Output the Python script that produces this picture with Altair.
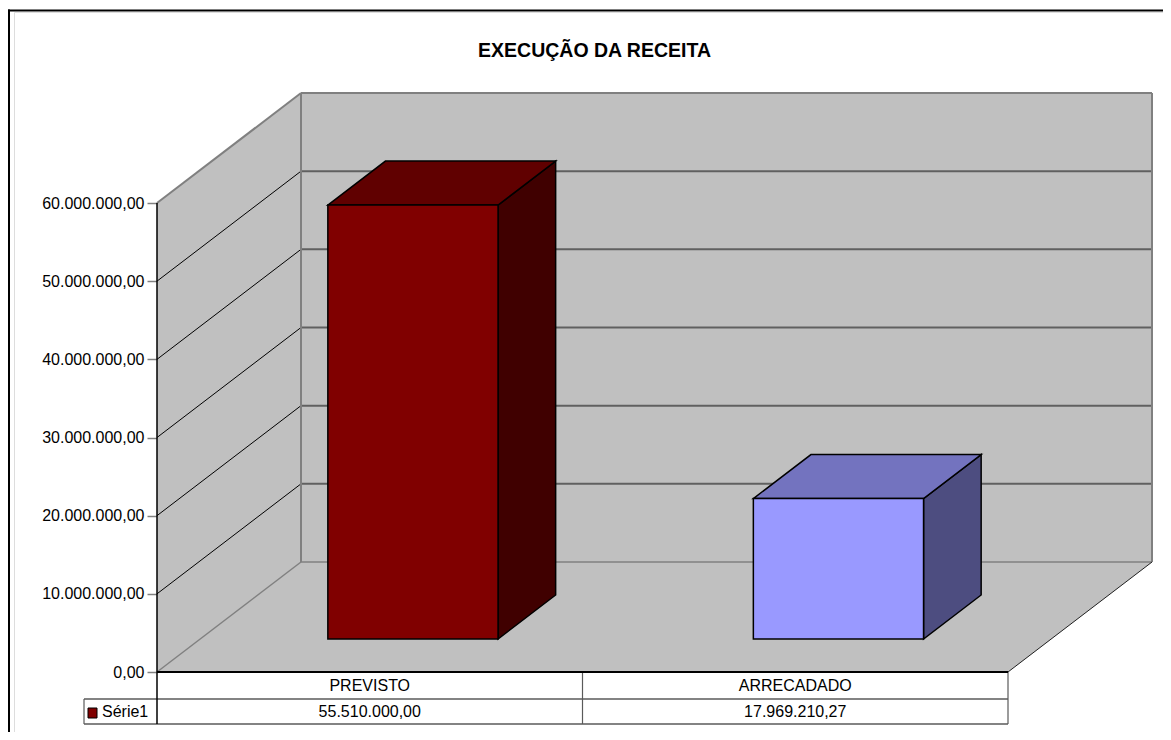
import altair as alt
import pandas as pd

# ---------------- data ----------------
CATEGORIES = ["PREVISTO", "ARRECADADO"]
VALUES = [55510000.00, 17969210.27]
SERIES_NAME = "Série1"
TITLE = "EXECUÇÃO DA RECEITA"
TICK_VALUES = [0, 10000000, 20000000, 30000000, 40000000, 50000000, 60000000]

# ---------------- styles ----------------
FRONT = ["#800000", "#9999FF"]
TOP = ["#600000", "#7373BF"]
SIDE = ["#400000", "#4D4D80"]
WALL = "#C0C0C0"
EDGE = "#808080"
GRID = "#606060"
TABLE_LINE = "#5A5A5A"
FONT = "Liberation Sans"

# ---------------- layout (pixels) ----------------
W, H = 1149, 720
PAD_L, PAD_T = 6, 4
ORIGIN_X, ORIGIN_Y = 143, 660        # front-left floor corner inside the view
COL_PX = 425.5                       # width of one category column
VAL_PX = 469 / 60e6                  # pixels per unit of value
DEPTH_DX, DEPTH_DY = 144, 110        # 3-D depth offset
ROW1_PX, ROW2_PX = 27, 52            # data-table row bottoms below the floor edge
LEGEND_PX = 73                       # legend cell width
LEG_TEXT_PX = 55
SWATCH_PX = (69, 60, 36, 46)         # left, right, top, bottom of legend key
GAP = 0.3                            # bar gap fraction (width and depth)

ZX = DEPTH_DX / COL_PX
ZY = DEPTH_DY / VAL_PX
VMAX = max(TICK_VALUES)
N = len(CATEGORIES)


def px(u, z):
    return u + z * ZX


def py(v, z):
    return v + z * ZY


def br(v):
    s = f"{v:,.2f}"
    return s.replace(",", "#").replace(".", ",").replace("#", ".")


xs = alt.Scale(domain=[-ORIGIN_X / COL_PX, (W - ORIGIN_X) / COL_PX], nice=False, zero=False)
ys = alt.Scale(domain=[-(H - ORIGIN_Y) / VAL_PX, ORIGIN_Y / VAL_PX], nice=False, zero=False)
label_expr = ("replace(replace(replace(format(datum.value, ',.2f'), regexp(',', 'g'), '#'), '.', ','), "
              "regexp('#', 'g'), '.')")
yaxis = alt.Axis(values=TICK_VALUES, offset=-ORIGIN_X, domain=False, grid=False, ticks=True,
                 tickSize=10, tickColor=EDGE, tickWidth=1.5, labelFontSize=16, labelFont=FONT,
                 labelColor="black", labelPadding=3, labelExpr=label_expr, title=None)


def X(f):
    return alt.X(f, scale=xs, axis=None)


def Y(f):
    return alt.Y(f, scale=ys, axis=yaxis, stack=None)


# ---------------- polygons (walls, floor, bar faces) ----------------
polys = []  # (points, fill, stroked)


def poly(pts):
    return pd.DataFrame([dict(x=x, y=y, y2=y2) for (x, y, y2) in pts])


polys.append((poly([(px(0, 1), py(VMAX, 1), py(0, 1)), (px(N, 1), py(VMAX, 1), py(0, 1))]), WALL, False))
polys.append((poly([(px(0, 0), py(VMAX, 0), py(0, 0)), (px(0, 1), py(VMAX, 1), py(0, 1))]), WALL, False))
polys.append((poly([(px(0, 0), py(0, 0), py(0, 0)), (px(0, 1), py(0, 1), py(0, 0)),
                    (px(N, 0), py(0, 1), py(0, 0)), (px(N, 1), py(0, 1), py(0, 1))]), WALL, False))

bar_polys = []
fronts = []
for i, (cat, v) in enumerate(zip(CATEGORIES, VALUES)):
    u0, u1 = i + GAP, i + 1 - GAP
    z0, z1 = GAP, 1 - GAP
    bar_polys.append((poly([(px(u1, z0), py(v, z0), py(0, z0)),
                            (px(u1, z1), py(v, z1), py(0, z1))]), SIDE[i], True))
    bar_polys.append((poly([(px(u0, z0), py(v, z0), py(v, z0)),
                            (px(u0, z1), py(v, z1), py(v, z0)),
                            (px(u1, z0), py(v, z1), py(v, z0)),
                            (px(u1, z1), py(v, z1), py(v, z1))]), TOP[i], True))
    fronts.append(dict(cat=cat, x=px(u0, z0), x2=px(u1, z0), y=py(0, z0), y2=py(v, z0), fill=FRONT[i]))
fronts_df = pd.DataFrame(fronts)


def poly_layer(df, fill, stroked):
    kw = dict(stroke="black", strokeWidth=1.5) if stroked else dict(strokeWidth=0)
    return alt.Chart(df).mark_area(orient="vertical", interpolate="linear", fill=fill,
                                   fillOpacity=1, **kw).encode(
        x=X("x:Q"), y=Y("y:Q"), y2="y2:Q")


# ---------------- lines ----------------
T1 = -ROW1_PX / VAL_PX
T2 = -ROW2_PX / VAL_PX
UL = -LEGEND_PX / COL_PX
lines = []


def add_line(x, x2, y, y2, color, w):
    lines.append(dict(x=x, x2=x2, y=y, y2=y2, color=color, w=w))


for v in TICK_VALUES[1:-1]:
    add_line(px(0, 1), px(N, 1), py(v, 1), py(v, 1), GRID, 2)
    add_line(px(0, 0), px(0, 1), py(v, 0), py(v, 1), "black", 1)
add_line(px(0, 1), px(N, 1), py(VMAX, 1), py(VMAX, 1), EDGE, 2)
add_line(px(0, 1), px(0, 1), py(0, 1), py(VMAX, 1), EDGE, 2)
add_line(px(N, 1), px(N, 1), py(0, 1), py(VMAX, 1), EDGE, 2)
add_line(px(0, 1), px(N, 1), py(0, 1), py(0, 1), EDGE, 1.5)
add_line(px(0, 0), px(0, 1), py(VMAX, 0), py(VMAX, 1), EDGE, 2)
add_line(px(0, 0), px(0, 1), py(0, 0), py(0, 1), EDGE, 1.5)
add_line(px(N, 0), px(N, 1), py(0, 0), py(0, 1), "#202020", 1)
# data table
add_line(UL, px(N, 0), T1, T1, TABLE_LINE, 1.5)
add_line(UL, px(N, 0), T2, T2, TABLE_LINE, 1.5)
for i in range(1, N + 1):
    add_line(i, i, 0, T2, TABLE_LINE, 1.2)
add_line(UL, UL, T1, T2, TABLE_LINE, 1.2)
add_line(px(0, 0), px(N, 0), py(0, 0), py(0, 0), "black", 2)
add_line(px(0, 0), px(0, 0), py(VMAX, 0), T2, "black", 1.5)
lines_df = pd.DataFrame(lines)

# ---------------- table texts ----------------
texts = []
for i, (cat, v) in enumerate(zip(CATEGORIES, VALUES)):
    texts.append(dict(x=i + 0.5, y=T1 / 2, t=cat))
    texts.append(dict(x=i + 0.5, y=(T1 + T2) / 2, t=br(v)))
texts_df = pd.DataFrame(texts)
legend_df = pd.DataFrame([dict(x=-LEG_TEXT_PX / COL_PX, y=(T1 + T2) / 2, t=SERIES_NAME,
                               sx=-SWATCH_PX[0] / COL_PX, sx2=-SWATCH_PX[1] / COL_PX,
                               sy=-SWATCH_PX[2] / VAL_PX, sy2=-SWATCH_PX[3] / VAL_PX,
                               fill=FRONT[0])])

# ---------------- layers ----------------
wall_layers = [poly_layer(df, f, s) for (df, f, s) in polys]
bar_layers = [poly_layer(df, f, s) for (df, f, s) in bar_polys]

lines_layer = alt.Chart(lines_df).mark_rule().encode(
    x=X("x:Q"), x2="x2:Q", y=Y("y:Q"), y2="y2:Q",
    color=alt.Color("color:N", scale=None), strokeWidth=alt.StrokeWidth("w:Q", scale=None))

fronts_layer = alt.Chart(fronts_df).mark_rect(stroke="black", strokeWidth=1.5).encode(
    x=X("x:Q"), x2="x2:Q", y=Y("y:Q"), y2="y2:Q", fill=alt.Fill("fill:N", scale=None))

text_layer = alt.Chart(texts_df).mark_text(font=FONT, fontSize=16, baseline="middle",
                                           align="center", color="black").encode(
    x=X("x:Q"), y=Y("y:Q"), text="t:N")

legend_text = alt.Chart(legend_df).mark_text(font=FONT, fontSize=16, baseline="middle",
                                             align="left", color="black").encode(
    x=X("x:Q"), y=Y("y:Q"), text="t:N")

legend_key = alt.Chart(legend_df).mark_rect(stroke="black", strokeWidth=1).encode(
    x=X("sx:Q"), x2="sx2:Q", y=Y("sy:Q"), y2="sy2:Q", fill=alt.Fill("fill:N", scale=None))

frame_df = pd.DataFrame({"frame": [0]})
frame_top = alt.Chart(frame_df).mark_rule(color="black", strokeWidth=2).encode(
    x=alt.value(-PAD_L), x2=alt.value(W), y=alt.value(-1.5))
frame_left = alt.Chart(frame_df).mark_rule(color="black", strokeWidth=2).encode(
    x=alt.value(-5), y=alt.value(-2.5), y2=alt.value(H))

chart = alt.layer(
    *wall_layers, lines_layer, *bar_layers, fronts_layer, text_layer,
    legend_text, legend_key, frame_top, frame_left,
).properties(
    width=W, height=H,
    padding={"left": PAD_L, "top": PAD_T, "right": 0, "bottom": 0},
    autosize=alt.AutoSizeParams(type="none"),
    title=alt.TitleParams(TITLE, font=FONT, fontSize=19.5, fontWeight="bold", color="black",
                          anchor="middle", frame="group", offset=-68, baseline="alphabetic", dx=6),
).configure_view(stroke=None).configure(background="white")

chart.save("out.html", embed_options={"renderer": "svg", "actions": False})
